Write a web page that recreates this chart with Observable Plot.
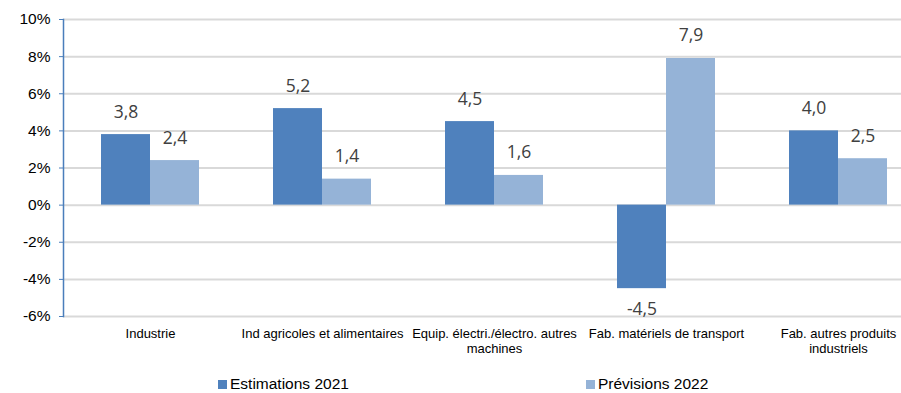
<!DOCTYPE html>
<html lang="fr">
<head>
<meta charset="utf-8">
<script src="https://cdn.jsdelivr.net/npm/d3@7"></script>
<script src="https://cdn.jsdelivr.net/npm/@observablehq/plot@0.6"></script>
<style>
  html, body { margin: 0; padding: 0; background: #fff; }
  #chart { position: relative; width: 901px; height: 393px; overflow: hidden; }
  #legend { position: absolute; left: 0; top: 370px; width: 901px; height: 23px;
            font-family: "Liberation Sans", Arial, sans-serif; font-size: 15.5px; color: #000; }
  #legend .item { position: absolute; top: 6px; line-height: 16px; white-space: nowrap; }
  #legend .swatch { position: absolute; top: 4px; width: 9px; height: 9px; }
  #legend .label { position: absolute; left: 12px; top: 0; }
</style>
</head>
<body>
<div id="chart"></div>
<script>
// Sectors (category axis) and the two series, in percent
const categories = [
  "Industrie",
  "Ind agricoles et alimentaires",
  "Equip. électri./électro. autres machines",
  "Fab. matériels de transport",
  "Fab. autres produits industriels"
];
const categoryLabels = [
  "Industrie",
  "Ind agricoles et alimentaires",
  "Equip. électri./électro. autres\nmachines",
  "Fab. matériels de transport",
  "Fab. autres produits\nindustriels"
];
const estimations2021 = [3.8, 5.2, 4.5, -4.5, 4.0];
const previsions2022 = [2.4, 1.4, 1.6, 7.9, 2.5];
const yTicks = [-6, -4, -2, 0, 2, 4, 6, 8, 10];
const seriesNames = ["Estimations 2021", "Prévisions 2022"];
const seriesColors = ["#4F81BD", "#95B3D7"];

const rows = categories.map((c, i) => ({cat: c, est: estimations2021[i], prev: previsions2022[i]}));
const labelOf = new Map(categories.map((c, i) => [c, categoryLabels[i]]));
const fmt = v => v.toFixed(1).replace(".", ",");

const valueFont = {fontFamily: "'Open Sans', sans-serif", fontSize: 17.5, fill: "#404040"};

const plot = Plot.plot({
  width: 901,
  height: 370,
  marginLeft: 63,
  marginRight: 0,
  marginTop: 19,
  marginBottom: 54,
  style: {fontFamily: "'Liberation Sans', Arial, sans-serif", background: "#fff", overflow: "visible"},
  x: {domain: categories, range: [64, 924], padding: 0},
  y: {domain: [-6, 10], ticks: yTicks},
  marks: [
    Plot.gridY(yTicks, {stroke: "#d9d9d9", strokeOpacity: 1, strokeWidth: 2}),
    Plot.barY(rows, {x: "cat", y1: 0, y2: "est", fill: seriesColors[0], insetLeft: 37, insetRight: 86}),
    Plot.barY(rows, {x: "cat", y1: 0, y2: "prev", fill: seriesColors[1], insetLeft: 86, insetRight: 37}),
    Plot.text(rows, {filter: d => d.est >= 0, x: "cat", y: "est", text: d => fmt(d.est), dx: -24.5, dy: -17, lineAnchor: "bottom", ...valueFont}),
    Plot.text(rows, {filter: d => d.est < 0, x: "cat", y: "est", text: d => fmt(d.est), dx: -24.5, dy: 26, lineAnchor: "bottom", ...valueFont}),
    Plot.text(rows, {filter: d => d.prev >= 0, x: "cat", y: "prev", text: d => fmt(d.prev), dx: 24.5, dy: -17, lineAnchor: "bottom", ...valueFont}),
    Plot.text(rows, {filter: d => d.prev < 0, x: "cat", y: "prev", text: d => fmt(d.prev), dx: 24.5, dy: 26, lineAnchor: "bottom", ...valueFont}),
    Plot.frame({anchor: "left", stroke: "#4A7EBB", strokeWidth: 1.5}),
    Plot.axisY(yTicks, {tickFormat: d => d + "%", tickSize: 4, tickPadding: 9, stroke: "#4A7EBB",
      fill: "#000", fontSize: 15.5, label: null}),
    Plot.axisX({tickFormat: c => labelOf.get(c), tickSize: 0, tickPadding: 11, lineHeight: 1.15,
      fill: "#000", fontSize: 13, label: null})
  ]
});

const chart = document.getElementById("chart");
chart.appendChild(plot);

// Legend below the plot
const legend = document.createElement("div");
legend.id = "legend";
const legendX = [218, 586];
seriesNames.forEach((name, i) => {
  const item = document.createElement("div");
  item.className = "item";
  item.style.left = legendX[i] + "px";
  const sw = document.createElement("span");
  sw.className = "swatch";
  sw.style.background = seriesColors[i];
  const lb = document.createElement("span");
  lb.className = "label";
  lb.textContent = name;
  item.append(sw, lb);
  legend.appendChild(item);
});
chart.appendChild(legend);
</script>
</body>
</html>
